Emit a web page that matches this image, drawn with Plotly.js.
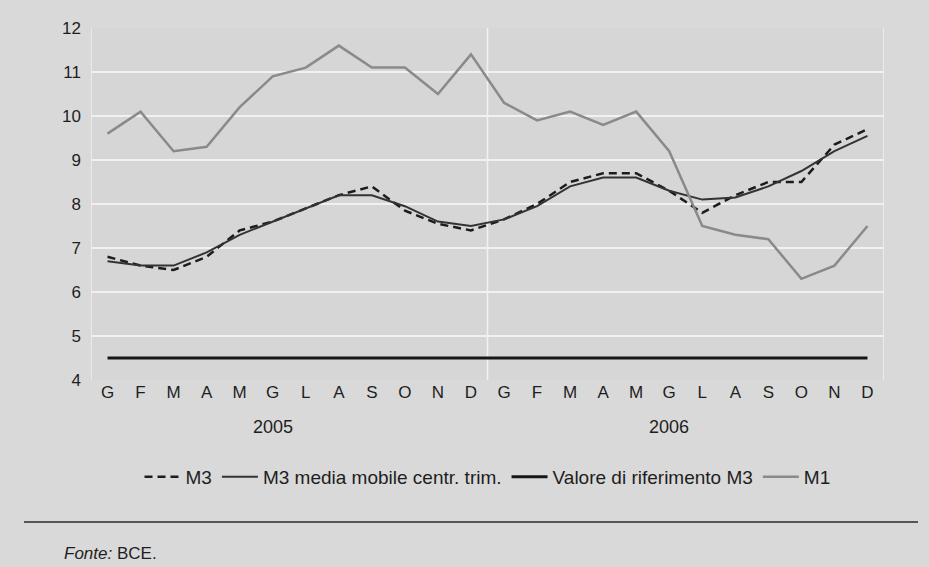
<!DOCTYPE html>
<html>
<head>
<meta charset="utf-8">
<script src="https://cdn.plot.ly/plotly-3.0.1.min.js"></script>
<style>html,body{margin:0;padding:0;background:#d9d9d9;}#chart{width:929px;height:567px;}</style>
</head>
<body>
<div id="chart"></div>
<script>
const months = ["G","F","M","A","M","G","L","A","S","O","N","D","G","F","M","A","M","G","L","A","S","O","N","D"];
const years = ["2005","2006"];
const m3 = [6.8,6.6,6.5,6.8,7.4,7.6,7.9,8.2,8.4,7.85,7.55,7.4,7.65,8.0,8.5,8.7,8.7,8.3,7.8,8.2,8.5,8.5,9.35,9.7];
const m3avg = [6.7,6.6,6.6,6.9,7.3,7.6,7.9,8.2,8.2,7.95,7.6,7.5,7.65,7.95,8.4,8.6,8.6,8.3,8.1,8.15,8.4,8.75,9.2,9.55];
const refM3 = [4.5,4.5,4.5,4.5,4.5,4.5,4.5,4.5,4.5,4.5,4.5,4.5,4.5,4.5,4.5,4.5,4.5,4.5,4.5,4.5,4.5,4.5,4.5,4.5];
const m1 = [9.6,10.1,9.2,9.3,10.2,10.9,11.1,11.6,11.1,11.1,10.5,11.4,10.3,9.9,10.1,9.8,10.1,9.2,7.5,7.3,7.2,6.3,6.6,7.5];
const legendNames = ["M3","M3 media mobile centr. trim.","Valore di riferimento M3","M1"];

const idx = months.map((_, i) => i);
const traces = [
  {x: idx, y: m3, name: legendNames[0], mode: "lines", line: {color: "#1c1c1c", width: 2.5, dash: "8px,5px"}},
  {x: idx, y: m3avg, name: legendNames[1], mode: "lines", line: {color: "#333333", width: 2}},
  {x: idx, y: refM3, name: legendNames[2], mode: "lines", line: {color: "#161616", width: 3}},
  {x: idx, y: m1, name: legendNames[3], mode: "lines", line: {color: "#8a8a8a", width: 2.5}}
];

const gridCol = "#f1f1f1";
const layout = {
  width: 929, height: 567,
  margin: {l: 91, r: 45, t: 28, b: 187},
  paper_bgcolor: "#d9d9d9",
  plot_bgcolor: "#d6d6d6",
  font: {family: "Liberation Sans, Arial, sans-serif", size: 17, color: "#1e1e1e"},
  showlegend: true,
  legend: {orientation: "h", x: 0.5, xanchor: "center", y: -0.2756, yanchor: "middle",
           font: {size: 19, color: "#1e1e1e"}, bgcolor: "rgba(0,0,0,0)", traceorder: "normal", itemwidth: 36},
  xaxis: {range: [-0.5, 23.5], tickmode: "array", tickvals: idx, ticktext: months,
          showgrid: false, zeroline: false, showline: false, ticks: "", fixedrange: true,
          tickfont: {size: 17}},
  yaxis: {range: [4, 12], dtick: 1, tick0: 4, showgrid: true, gridcolor: gridCol, gridwidth: 1.5,
          zeroline: false, showline: false, ticks: "", ticklabelstandoff: 9, tickfont: {size: 17}},
  shapes: [
    {type: "line", xref: "x", yref: "paper", x0: -0.5, x1: -0.5, y0: 0, y1: 1, layer: "below", line: {color: gridCol, width: 1.5}},
    {type: "line", xref: "x", yref: "paper", x0: 11.5, x1: 11.5, y0: 0, y1: 1, layer: "below", line: {color: gridCol, width: 1.5}},
    {type: "line", xref: "x", yref: "paper", x0: 23.5, x1: 23.5, y0: 0, y1: 1, layer: "below", line: {color: gridCol, width: 1.5}},
    {type: "line", xref: "paper", yref: "paper", x0: -0.0845, x1: 1.0429, y0: -0.4034, y1: -0.4034, line: {color: "#2a2a2a", width: 1.5}}
  ],
  annotations: [
    {xref: "x", yref: "paper", x: 5, y: -0.1335, text: years[0], showarrow: false, yanchor: "middle", font: {size: 18}},
    {xref: "x", yref: "paper", x: 17, y: -0.1335, text: years[1], showarrow: false, yanchor: "middle", font: {size: 18}},
    {xref: "paper", yref: "paper", x: -0.0366, y: -0.4915, xanchor: "left", yanchor: "middle", showarrow: false,
     text: "<i>Fonte:</i> BCE.", font: {size: 17}}
  ]
};
Plotly.newPlot("chart", traces, layout, {displayModeBar: false, staticPlot: true});
</script>
</body>
</html>
